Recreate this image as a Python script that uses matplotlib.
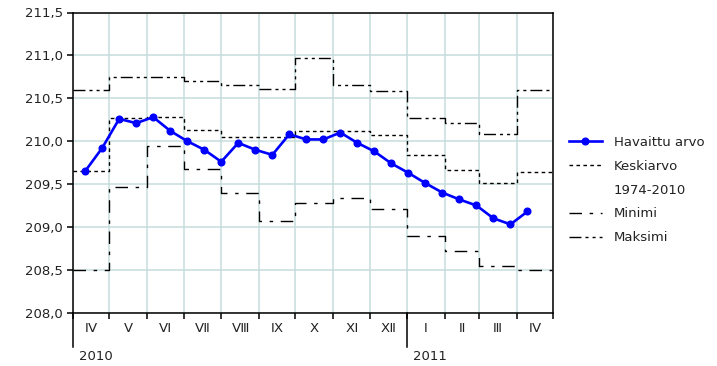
import datetime as dt
import matplotlib
matplotlib.use("Agg")
import matplotlib.pyplot as plt
import pandas as pd

# biweekly observed water level
obs_start = '2010-04-11'
obs_level = [209.65, 209.92, 210.26, 210.21, 210.28, 210.12, 210.00, 209.90, 209.76,
             209.98, 209.90, 209.84, 210.08, 210.02, 210.02, 210.10, 209.98, 209.88,
             209.74, 209.63, 209.51, 209.40, 209.32, 209.25, 209.10, 209.03, 209.18]

# monthly statistics 1974-2010, Apr 2010 .. Apr 2011
mean_level = [209.65, 210.27, 210.28, 210.13, 210.05, 210.05, 210.12, 210.12, 210.07,
              209.84, 209.66, 209.51, 209.64]
min_level = [208.50, 209.47, 209.94, 209.68, 209.40, 209.07, 209.28, 209.34, 209.21,
             208.90, 208.72, 208.54, 208.50]
max_level = [210.60, 210.75, 210.75, 210.70, 210.65, 210.61, 210.97, 210.65, 210.58,
             210.27, 210.21, 210.08, 210.60]

month_labels = ['Ⅳ', 'Ⅴ', 'Ⅵ', 'Ⅶ', 'Ⅷ', 'Ⅸ', 'Ⅹ', 'Ⅺ', 'Ⅻ', 'Ⅰ', 'Ⅱ', 'Ⅲ', 'Ⅳ']
year_labels = ['2010', '2011']
y_ticks = [208.0, 208.5, 209.0, 209.5, 210.0, 210.5, 211.0, 211.5]

plt.rcParams['font.family'] = ['DejaVu Sans']
txt_col = '#222222'

obs_dates = pd.date_range(obs_start, periods=len(obs_level), freq='14D')
month_starts = pd.date_range('2010-04-01', '2011-05-01', freq='MS')
step_x = list(month_starts[:-1]) + [pd.Timestamp('2011-04-30')]
mid_month = [a + (b - a) / 2 for a, b in zip(month_starts[:-1], month_starts[1:])]

fig = plt.figure(figsize=(7.17, 3.66), dpi=100)
ax = fig.add_axes([73 / 717, 1 - 312.7 / 366, 480 / 717, 300.2 / 366])

ax.plot(step_x, max_level + max_level[-1:], drawstyle='steps-post', color='k', lw=1,
        dashes=(8.6, 2.9, 2.2, 2.9, 2.2, 2.9), label='Maksimi')
ax.plot(step_x, min_level + min_level[-1:], drawstyle='steps-post', color='k', lw=1,
        dashes=(9.0, 5.5, 2.5, 5.5), label='Minimi')
ax.plot(step_x, mean_level + mean_level[-1:], drawstyle='steps-post', color='k', lw=1,
        dashes=(2.6, 2.4), label='Keskiarvo')
ax.plot(obs_dates, obs_level, color='#0000ff', lw=1.9, marker='o', ms=4.8,
        label='Havaittu arvo', zorder=5)

ax.set_xlim(month_starts[0], month_starts[-1])
ax.set_ylim(208.0, 211.5)
ax.set_yticks(y_ticks)
ax.set_yticklabels([f'{v:.1f}'.replace('.', ',') for v in y_ticks])

ax.set_xticks(month_starts)
ax.set_xticklabels([])
ax.set_xticks(mid_month, minor=True)
ax.set_xticklabels(month_labels, minor=True)
ax.tick_params(axis='x', which='major', length=4, width=1.1, color='k')
ax.tick_params(axis='x', which='minor', length=0, pad=7, labelsize=9.5, labelcolor=txt_col)
ax.tick_params(axis='y', length=4.3, width=1.1, pad=3, labelsize=9.5, labelcolor=txt_col)

ax.grid(True, which='major', color='#c6dcdc', lw=1.1)
ax.set_axisbelow(True)
for s in ax.spines.values():
    s.set_linewidth(1.1)

# year separators below the axis and year names
tr = ax.get_xaxis_transform()
for d, lab in zip([pd.Timestamp('2010-04-01'), pd.Timestamp('2011-01-01')], year_labels):
    ax.plot([d, d], [0, -0.114], transform=tr, color='k', lw=1.1, clip_on=False)
    ax.text(d + pd.Timedelta(days=5), -0.147, lab, transform=tr, ha='left', va='center',
            fontsize=9.5, color=txt_col)

# legend with the reference period on its own row
h, l = ax.get_legend_handles_labels()
blank, = ax.plot([], [], color='none')
handles = [h[3], h[2], blank, h[1], h[0]]
labels = ['Havaittu arvo', 'Keskiarvo', '1974-2010', 'Minimi', 'Maksimi']
leg = fig.legend(handles, labels, loc='upper left', bbox_to_anchor=(569 / 717, 1 - 136 / 366),
                 frameon=False, borderpad=0, borderaxespad=0, handlelength=2.5,
                 handletextpad=0.9, labelspacing=0.82, numpoints=1, fontsize=9.5)
for t in leg.get_texts():
    t.set_color(txt_col)

fig.savefig('out.png', dpi=100)
